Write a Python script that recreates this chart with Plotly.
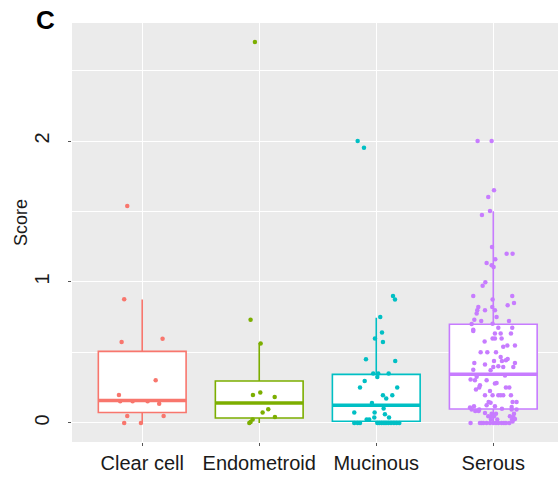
import plotly.graph_objects as go

categories = ["Clear cell", "Endometroid", "Mucinous", "Serous"]
colors = ["#F8766D", "#7CAE00", "#00BFC4", "#C77CFF"]

# box statistics
q1 = [0.074, 0.035, 0.012, 0.099]
median = [0.159, 0.142, 0.126, 0.345]
q3 = [0.508, 0.298, 0.345, 0.700]
lower_whisker = [0.0, 0.0, 0.0, 0.0]
upper_whisker = [0.875, 0.567, 0.747, 1.501]

# jittered observations: score values and horizontal jitter (category units)
clear_vals = [1.539, 0.877, 0.575, 0.598, 0.303, 0.199, 0.154, 0.154, 0.154, 0.137, 0.05, 0.05, 0.0, 0.0]
clear_jit = [-0.128, -0.154, -0.176, 0.174, 0.115, -0.199, -0.188, -0.082, 0.046, 0.145, -0.128, 0.183, -0.154, -0.011]

endo_vals = [2.702, 0.733, 0.563, 0.216, 0.199, 0.184, 0.097, 0.074, 0.043, 0.024, 0.007, 0.0]
endo_jit = [-0.037, -0.074, 0.012, 0.009, -0.054, 0.132, 0.077, 0.029, 0.134, -0.056, -0.074, -0.085]

muc_vals = [2.0, 1.953, 0.901, 0.875, 0.752, 0.641, 0.599, 0.575, 0.452, 0.440,
            0.35, 0.35, 0.35, 0.326, 0.298, 0.251, 0.251, 0.196, 0.196, 0.173,
            0.142, 0.102, 0.074, 0.074, 0.062, 0.038, 0.038, 0.024, 0.024,
            0, 0, 0, 0, 0, 0, 0, 0, 0, 0, 0, 0, 0]
muc_jit = [-0.159, -0.105, 0.143, 0.160, 0.034, 0.049, -0.011, 0.057, -0.088, 0.162,
           -0.026, 0.017, 0.106, 0.009, -0.099, -0.139, 0.179, 0.057, 0.137, 0.085,
           -0.037, 0.063, -0.188, -0.014, 0.074, -0.017, 0.109, -0.082, -0.060,
           -0.188, -0.159, -0.139, 0.009, 0.026, 0.046, 0.066, 0.083, 0.103, 0.126, 0.151, 0.174, 0.197]

ser_vals = [2.0, 2.0, 1.650, 1.603, 1.504, 1.475, 1.248, 1.201, 1.201, 1.161,
            1.135, 1.118, 1.106, 0.998, 0.974, 0.901, 0.901, 0.875, 0.851, 0.835,
            0.823, 0.823, 0.799, 0.799, 0.799, 0.776, 0.752, 0.733, 0.723, 0.723,
            0.702, 0.704, 0.676, 0.676, 0.662, 0.653, 0.634, 0.634, 0.634, 0.599,
            0.599, 0.599, 0.549, 0.540, 0.577, 0.549, 0.501, 0.501, 0.501, 0.468,
            0.440, 0.440, 0.445, 0.454, 0.426, 0.414, 0.426, 0.397, 0.402, 0.397,
            0.397, 0.378, 0.374, 0.327, 0.336, 0.308, 0.303, 0.303, 0.280, 0.284,
            0.268, 0.251, 0.251, 0.251, 0.237, 0.227, 0.196, 0.196, 0.196, 0.196,
            0.196, 0.196, 0.149, 0.144, 0.149, 0.149, 0.126, 0.119, 0.114, 0.095,
            0.109, 0.119, 0.095, 0.085, 0.085, 0.095, 0.100, 0.095, 0.071, 0.066,
            0.066, 0.066, 0.047, 0.047, 0.047, 0.047, 0.043, 0.024, 0.024, 0.024,
            0.028, 0, 0, 0, 0, 0, 0, 0, 0, 0, 0, 0, 0, 0, 0.010]
ser_jit = [-0.134, -0.014, 0.006, -0.043, -0.028, -0.097, -0.011, 0.114, 0.165, 0.017,
           -0.057, -0.014, 0.003, -0.068, -0.091, -0.171, 0.162, -0.006, 0.177, 0.123,
           -0.128, -0.009, -0.137, -0.071, 0.014, -0.142, 0.028, -0.162, -0.103, 0.134,
           -0.185, -0.006, 0.043, 0.162, -0.171, -0.171, 0.014, 0.063, 0.151, -0.006,
           0.014, 0.071, 0.120, 0.085, -0.074, 0.185, -0.108, -0.051, 0.023, 0.063,
           0.006, 0.074, 0.108, 0.123, -0.162, -0.071, 0.185, 0.0, 0.043, 0.085,
           0.171, -0.171, -0.023, -0.142, 0.100, -0.194, -0.157, -0.057, 0.014, 0.028,
           -0.114, -0.120, 0.108, 0.137, -0.148, -0.028, -0.071, -0.006, 0.043, 0.063,
           0.085, 0.151, -0.040, -0.023, 0.165, 0.199, -0.057, 0.014, 0.157, 0.199,
           -0.199, -0.165, -0.185, -0.154, -0.125, -0.120, 0.074, 0.157, -0.071, -0.014,
           0.023, 0.177, -0.043, -0.014, 0.006, 0.142, 0.171, -0.020, 0.034, 0.160,
           0.185, -0.194, -0.114, -0.100, -0.085, -0.057, -0.028, 0.0, 0.023, 0.043,
           0.071, 0.091, 0.108, 0.137, 0.165]

values = [clear_vals, endo_vals, muc_vals, ser_vals]
jitters = [clear_jit, endo_jit, muc_jit, ser_jit]

BOX_W = 0.75

fig = go.Figure()

for i, cat in enumerate(categories):
    fig.add_trace(go.Box(
        x=[i], q1=[q1[i]], median=[median[i]], q3=[q3[i]],
        lowerfence=[lower_whisker[i]], upperfence=[upper_whisker[i]],
        width=BOX_W, whiskerwidth=0, boxpoints=False,
        fillcolor="white", line=dict(color=colors[i], width=1.6),
        showlegend=False, hoverinfo="skip",
    ))

for i, cat in enumerate(categories):
    fig.add_trace(go.Scatter(
        x=[i + j for j in jitters[i]], y=values[i], mode="markers",
        marker=dict(color=colors[i], size=4.5, line=dict(width=0)),
        showlegend=False, hoverinfo="skip",
    ))

for i, cat in enumerate(categories):
    fig.add_trace(go.Scatter(
        x=[i - BOX_W / 2, i + BOX_W / 2], y=[median[i], median[i]], mode="lines",
        line=dict(color=colors[i], width=3.5),
        showlegend=False, hoverinfo="skip",
    ))

fig.update_layout(
    width=558, height=478,
    margin=dict(l=72, r=0, t=23, b=36),
    paper_bgcolor="white", plot_bgcolor="#EBEBEB",
    font=dict(family="Liberation Sans, Arial, sans-serif", color="#1a1a1a"),
    xaxis=dict(
        range=[-0.6, 3.553], tickmode="array", tickvals=list(range(len(categories))),
        ticktext=categories, showgrid=True, gridcolor="white", gridwidth=1.4,
        zeroline=False, ticks="outside", ticklen=3, tickcolor="#555",
        tickfont=dict(size=20, color="#1a1a1a"), showline=False,
    ),
    yaxis=dict(
        range=[-0.135, 2.837], tickmode="array", tickvals=[0, 1, 2],
        ticktext=["0", "1", "2"], tickangle=-90,
        showgrid=True, gridcolor="white", gridwidth=1.4, zeroline=False,
        ticks="outside", ticklen=3, tickcolor="#555",
        tickfont=dict(size=20, color="#1a1a1a"), ticklabelstandoff=11,
        minor=dict(tickvals=[0.5, 1.5, 2.5], showgrid=True, gridcolor="white", gridwidth=0.7, ticks=""),
    ),
    annotations=[
        dict(text="Score", x=21, y=223, xref="paper", yref="paper", showarrow=False,
             textangle=-90, font=dict(size=18, color="#1a1a1a")),
        dict(text="<b>C</b>", x=45, y=20, showarrow=False,
             font=dict(size=26, color="black")),
    ],
)

# convert annotation pixel positions to paper coordinates
W, H = 558, 478
ml, mr, mt, mb = 72, 0, 23, 36
pw, ph = W - ml - mr, H - mt - mb
anns = []
for a in fig.layout.annotations:
    px, py = a.x, a.y
    anns.append(dict(a.to_plotly_json(), x=(px - ml) / pw, y=(H - mb - py) / ph,
                     xref="paper", yref="paper", xanchor="center", yanchor="middle"))
fig.layout.annotations = anns

fig.write_html("out.html")
